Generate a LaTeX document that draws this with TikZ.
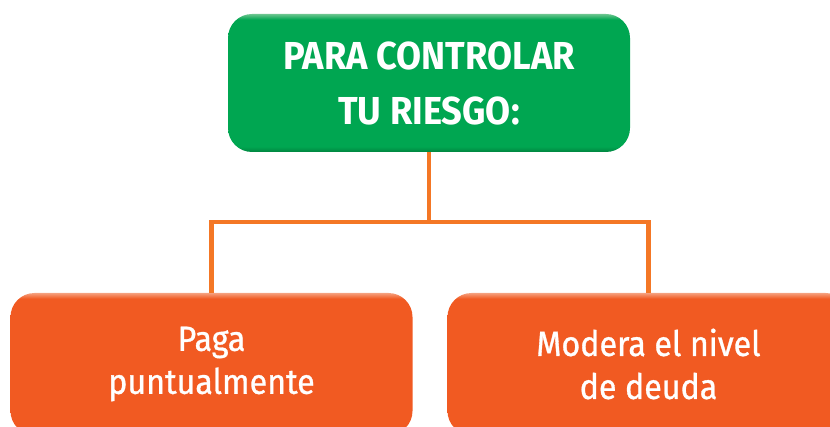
\documentclass[tikz,border=0pt]{standalone}
\usepackage{fontspec}
\newfontfamily\titlefont{Fira Sans}[FakeStretch=0.93]
\newfontfamily\boxfont{Fira Sans}[FakeStretch=0.92, FakeBold=0.9]
\definecolor{verde}{HTML}{00A651}
\definecolor{verdeD}{HTML}{00843F}
\definecolor{verdeL}{HTML}{6CC58F}
\definecolor{naranja}{HTML}{F15A22}
\definecolor{naranjaD}{HTML}{C8461A}
\definecolor{naranjaL}{HTML}{F5A07E}
\definecolor{linea}{HTML}{F47725}
\pgfdeclareverticalshading{verdebisel}{100bp}{color(0bp)=(verdeD); color(25bp)=(verdeD); color(27bp)=(verde); color(73bp)=(verde); color(75bp)=(verdeL); color(100bp)=(verdeL)}
\pgfdeclareverticalshading{naranjabisel}{100bp}{color(0bp)=(naranjaD); color(25bp)=(naranjaD); color(27bp)=(naranja); color(73bp)=(naranja); color(75bp)=(naranjaL); color(100bp)=(naranjaL)}
\tikzset{
  caja/.style={rounded corners=24pt, minimum width=402pt, align=center, text=white, inner sep=0pt},
  titulo/.style={caja, shading=verdebisel, minimum height=138pt, font=\titlefont\bfseries\fontsize{39}{55}\selectfont},
  opcion/.style={caja, shading=naranjabisel, minimum height=142pt, font=\boxfont\fontsize{35}{43}\selectfont},
  conector/.style={draw=linea, line width=4.5pt}
}
\begin{document}
\begin{tikzpicture}[x=1pt, y=-1pt]
    \useasboundingbox (0,0) rectangle (830,427);
    \clip (0,0) rectangle (830,427);

    % Caja principal
    \node[titulo] (riesgo) at (429,83) {PARA CONTROLAR\\TU RIESGO:};

    % Opciones
    \node[opcion] (paga) at (211.5,364) {Paga\\puntualmente};
    \node[opcion] (deuda) at (648.5,364) {Modera el nivel\\de deuda};

    % Conectores
    \coordinate (rama) at (429,222);
    \draw[conector] (riesgo.south) -- (rama);
    \draw[conector] (rama) -| (paga.north);
    \draw[conector] (rama) -| (deuda.north);
\end{tikzpicture}
\end{document}
